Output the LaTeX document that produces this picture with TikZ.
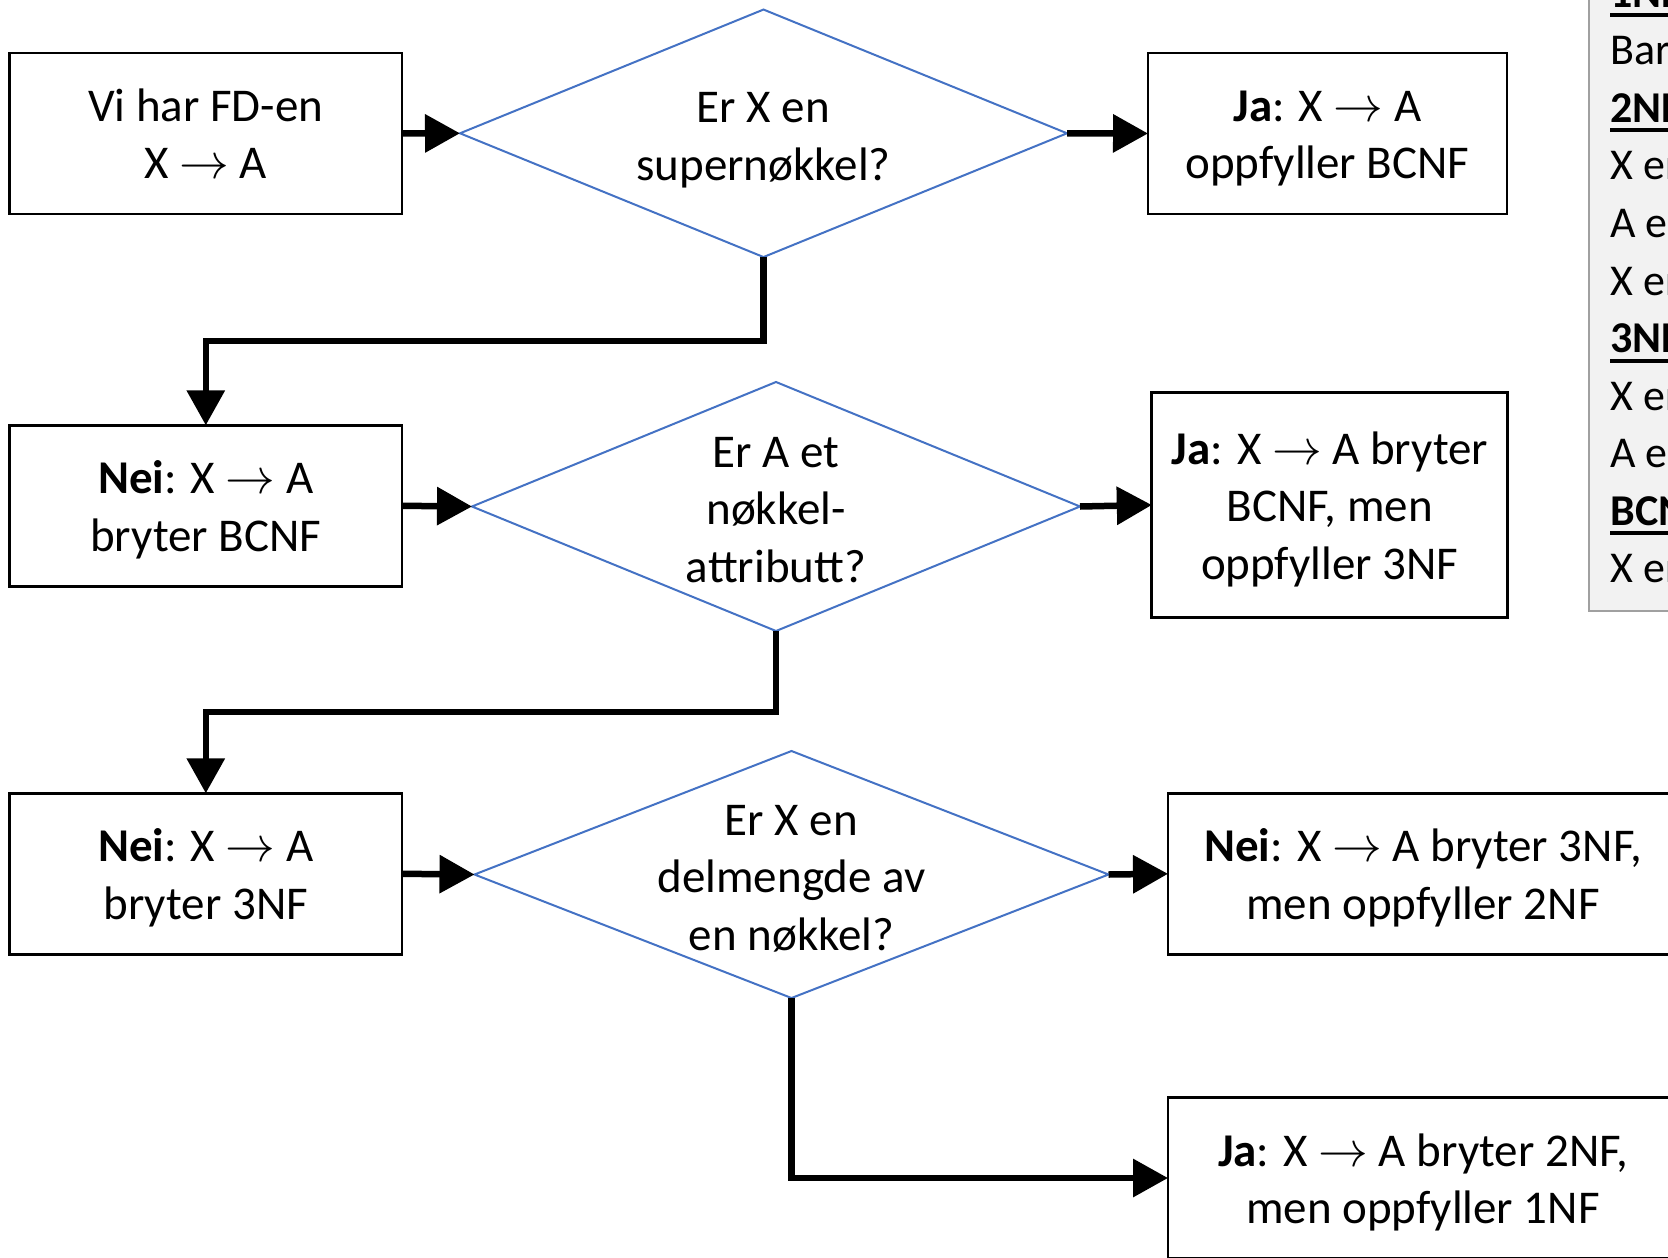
\documentclass[tikz,border=0pt]{standalone}
\usepackage{fontspec}
\setmainfont{Carlito}
\usetikzlibrary{arrows.meta,shapes.geometric,calc}

\definecolor{diablue}{HTML}{4472C4}
\definecolor{legfill}{HTML}{F2F2F2}
\definecolor{legline}{HTML}{A0A0A0}

\newcommand{\mainfs}{\fontsize{23.5}{28.7}\selectfont}
\newcommand{\legfs}{\fontsize{22}{28.75}\selectfont}
% bold heading with a thick underline
\newcommand{\ulhead}[1]{\setbox0\hbox{\textbf{#1}}\rlap{\raisebox{-5pt}{\rule{\wd0}{2pt}}}\box0}
\newcommand{\fdarrow}{X $\rightarrow$ A}
% taller strut for the first line of a block, so the text sits a little low
\newcommand{\topstrut}{\rule{0pt}{25.3pt}}

\begin{document}
\begin{tikzpicture}[x=0.5pt,y=-0.5pt,
  box/.style={draw, line width=1.35pt, rectangle, inner sep=0pt, outer sep=0pt,
              align=center, font=\mainfs},
  dia/.style={draw=diablue, line width=1pt, diamond, inner sep=0pt, outer sep=0pt},
  diatext/.style={align=center, font=\mainfs, inner sep=0pt},
  conn/.style={line width=3.25pt, line join=miter,
               -{Triangle[length=17.5pt,width=18.5pt]}},
  legtext/.style={anchor=base west, inner sep=0pt, font=\legfs}]

\useasboundingbox (0,0) rectangle (1668,1257);
\clip (0,0) rectangle (1668,1257);

% summary panel on the right
\path[draw=legline, fill=legfill, line width=1pt] (1589,-10) rectangle (1740,611);
\node[legtext] (l1)  at (1610,7.5)   {\ulhead{1NF:}};
\node[legtext] (l2)  at (1610,65)    {Bare atomære verdier};
\node[legtext] (l3)  at (1610,122.5) {\ulhead{2NF:}};
\node[legtext] (l4)  at (1610,180)   {X er en supernøkkel, eller};
\node[legtext] (l5)  at (1610,237.5) {A er et nøkkelattributt, eller};
\node[legtext] (l6)  at (1610,295)   {X er ikke en delmengde av en nøkkel};
\node[legtext] (l7)  at (1610,352.5) {\ulhead{3NF:}};
\node[legtext] (l8)  at (1610,410)   {X er en supernøkkel, eller};
\node[legtext] (l9)  at (1610,467.5) {A er et nøkkelattributt};
\node[legtext] (l10) at (1610,525)   {\ulhead{BCNF:}};
\node[legtext] (l11) at (1610,582.5) {X er en supernøkkel};

% row 1
\node[box, minimum width=196.2pt, minimum height=80.5pt] (b1) at (205.8,133.5)
  {\topstrut Vi har FD-en\\\fdarrow\strut};
\node[dia, minimum width=303.5pt, minimum height=123.75pt] (d1) at (763.5,133.3) {};
\node[diatext] (d1t) at (763.5,135) {\topstrut Er X en\\supernøkkel?\strut};
\node[box, minimum width=179.5pt, minimum height=80.5pt] (j1) at (1327.5,133.5)
  {\topstrut\textbf{Ja}: \fdarrow\\oppfyller BCNF\strut};

% row 2
\node[box, minimum width=196.2pt, minimum height=80.5pt] (b2) at (205.8,505.8)
  {\topstrut\textbf{Nei}: \fdarrow\\bryter BCNF\strut};
\node[dia, minimum width=304pt, minimum height=124.5pt] (d2) at (776,506.5) {};
\node[diatext] (d2t) at (776,508) {\topstrut Er A et\\nøkkel-\strut\\attributt?\strut};
\node[box, minimum width=178pt, minimum height=112.5pt] (j2) at (1329.8,505)
  {\topstrut\textbf{Ja}: \fdarrow{} bryter\\BCNF, men\strut\\oppfyller 3NF\strut};

% row 3
\node[box, minimum width=196.2pt, minimum height=80.5pt] (b3) at (205.8,873.8)
  {\topstrut\textbf{Nei}: \fdarrow\\bryter 3NF\strut};
\node[dia, minimum width=317pt, minimum height=123.5pt] (d3) at (791.5,874.5) {};
\node[diatext] (d3t) at (791.5,876) {\topstrut Er X en\\delmengde av\strut\\en nøkkel?\strut};
\node[box, minimum width=255pt, minimum height=80.5pt] (n3) at (1423,873.8)
  {\topstrut\textbf{Nei}: \fdarrow{} bryter 3NF,\\men oppfyller 2NF\strut};

% row 4
\node[box, minimum width=255pt, minimum height=80.5pt] (j3) at (1423,1178)
  {\topstrut\textbf{Ja}: \fdarrow{} bryter 2NF,\\men oppfyller 1NF\strut};

% connectors
\draw[conn] (b1.east) -- (d1.west);
\draw[conn] (d1.east) -- (j1.west);
\draw[conn] (d1.south) |- ($(d1.south)!0.5!(b2.north)$) -| (b2.north);

\draw[conn] (b2.east) -- (d2.west);
\draw[conn] (d2.east) -- (j2.west);
\draw[conn] (d2.south) |- ($(d2.south)!0.5!(b3.north)$) -| (b3.north);

\draw[conn] (b3.east) -- (d3.west);
\draw[conn] (d3.east) -- (n3.west);
\draw[conn] (d3.south) |- (j3.west);
\end{tikzpicture}
\end{document}
